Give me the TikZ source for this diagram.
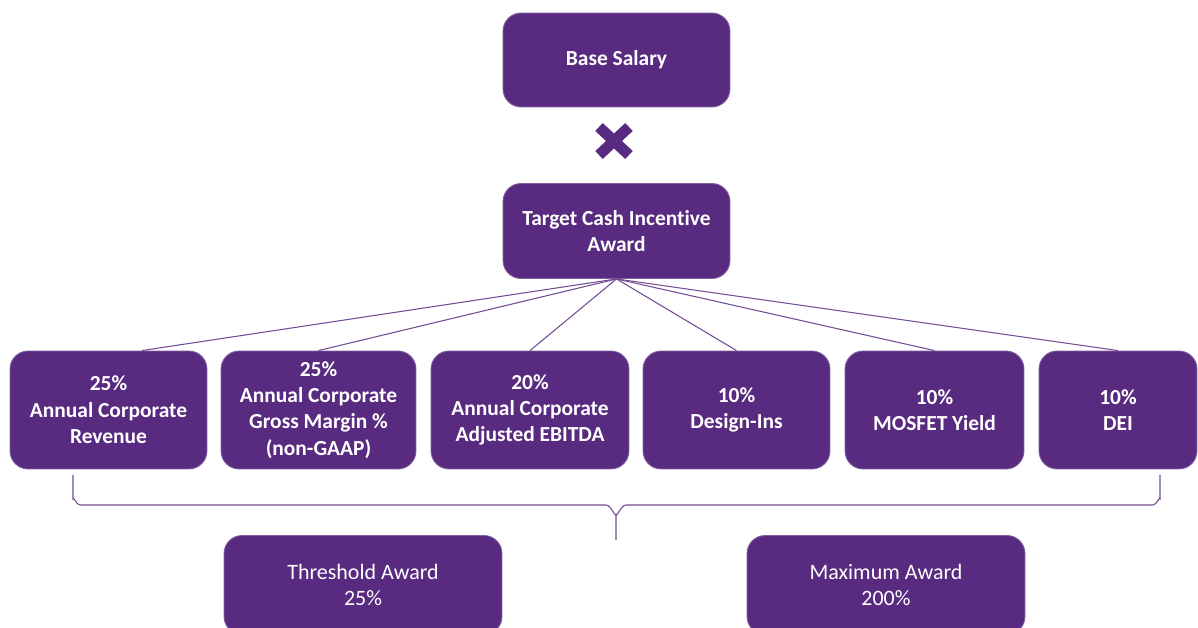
\documentclass[tikz,border=0pt]{standalone}
\usepackage{fontspec}
\setmainfont{Carlito}[Ligatures=NoCommon]
\definecolor{plum}{RGB}{89,43,128}
\tikzset{box/.style={rounded corners=0.36cm, fill=plum, draw=plum!75!white, line width=0.5pt, text=white, align=center, inner sep=2pt, font=\bfseries\fontsize{12.2}{15}\selectfont},
  link/.style={plum!85!white, line width=0.6pt}}

\begin{document}
\begin{tikzpicture}[x=0.02cm,y=-0.02cm]
  \useasboundingbox (0,0) rectangle (1198,628);
  \clip (0,0) rectangle (1198,628);
  % top of the plan
  \node[box, minimum width=4.54cm, minimum height=1.88cm] (base) at (616.5,60) {Base Salary};
  \draw[plum, line width=6.2pt] (599,127) -- (629,155) (629,127) -- (599,155);
  \node[box, minimum width=4.54cm, minimum height=1.9cm] (target) at (616.5,231) {Target Cash Incentive\\Award};
  % metrics
  \node[box, minimum width=3.94cm, minimum height=2.36cm] (rev) at (108.5,410) {25\%\\Annual Corporate\\Revenue};
  \node[box, minimum width=3.9cm, minimum height=2.36cm] (gm) at (318.5,410) {25\%\\Annual Corporate\\Gross Margin \%\\(non-GAAP)};
  \node[box, minimum width=3.96cm, minimum height=2.36cm] (ebitda) at (530,410) {20\%\\Annual Corporate\\Adjusted EBITDA};
  \node[box, minimum width=3.74cm, minimum height=2.36cm] (design) at (736.5,410) {10\%\\Design-Ins};
  \node[box, minimum width=3.58cm, minimum height=2.36cm] (yield) at (934.5,410) {10\%\\MOSFET Yield};
  \node[box, minimum width=3.16cm, minimum height=2.36cm] (dei) at (1118,410) {10\%\\DEI};
  \foreach \m in {gm,ebitda,design,yield,dei}
    \draw[link] (target.south) -- (\m.north);
  \draw[link] (target.south) -- ([xshift=19]rev.north);
  % brace
  \draw[link] (73,475) -- (73,499) to[out=90,in=180] (80,505) -- (606,505)
    to[out=0,in=-90] (616,514) -- (616,540);
  \draw[link] (616,514) to[out=-90,in=180] (626,505) -- (1153,505)
    to[out=0,in=90] (1160,499) -- (1160,475);
  % awards
  \node[box, font=\fontsize{12.5}{15}\selectfont, minimum width=5.56cm, minimum height=1.98cm] (low) at (363,585) {Threshold Award\\25\%};
  \node[box, font=\fontsize{12.5}{15}\selectfont, minimum width=5.56cm, minimum height=1.98cm] (high) at (886,585) {Maximum Award\\200\%};
\end{tikzpicture}
\end{document}
